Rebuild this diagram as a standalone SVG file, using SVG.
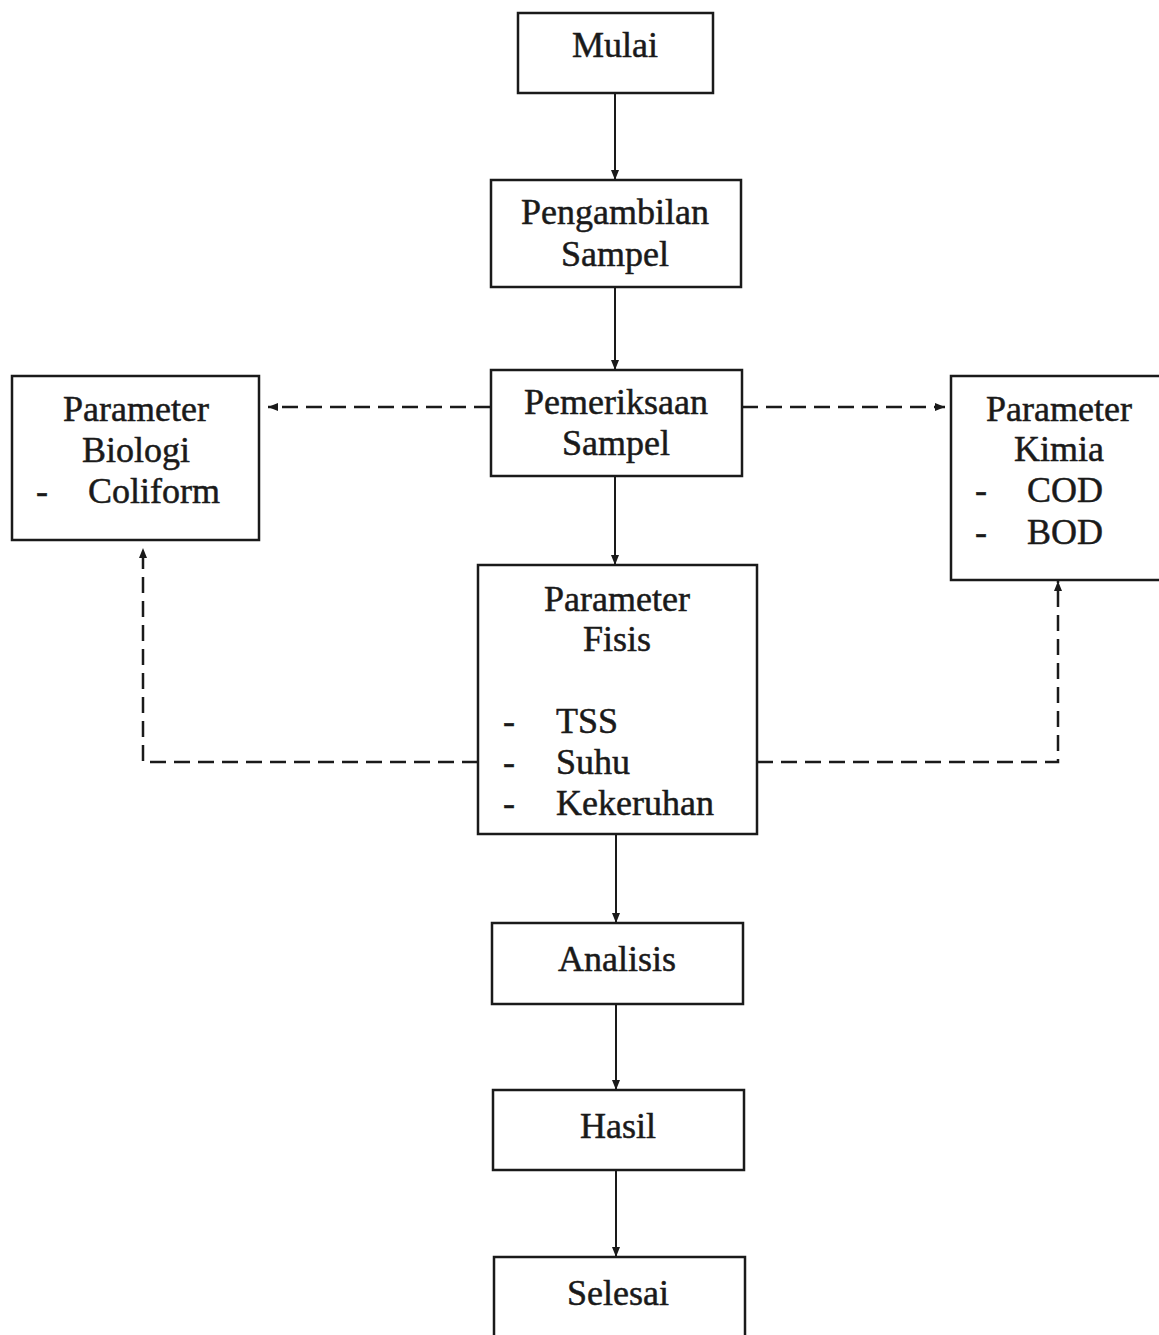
<svg xmlns="http://www.w3.org/2000/svg" width="1159" height="1335" viewBox="0 0 1159 1335">
<style>
.box{fill:#fff;stroke:#1a1a1a;stroke-width:2.5}
.t{font-family:"Liberation Serif","Times New Roman",serif;font-size:36px;fill:#1a1a1a;stroke:#1a1a1a;stroke-width:0.5}
.c{text-anchor:middle}
.solid{fill:none;stroke:#1a1a1a;stroke-width:2}
.dash{fill:none;stroke:#1a1a1a;stroke-width:2.5;stroke-dasharray:16 8}
</style>
<defs>
<marker id="ah" markerWidth="10" markerHeight="8" refX="10" refY="4" orient="auto" markerUnits="userSpaceOnUse">
<path d="M0,0 L10,4 L0,8 Z" fill="#1a1a1a"/>
</marker>
</defs>
<rect width="1159" height="1335" fill="#fff"/>
<g id="connectors">
<line class="solid" x1="615" y1="93" x2="615" y2="180" marker-end="url(#ah)"/>
<line class="solid" x1="615" y1="287" x2="615" y2="370" marker-end="url(#ah)"/>
<line class="solid" x1="615" y1="476" x2="615" y2="565" marker-end="url(#ah)"/>
<line class="solid" x1="616" y1="834" x2="616" y2="923" marker-end="url(#ah)"/>
<line class="solid" x1="616" y1="1004" x2="616" y2="1090" marker-end="url(#ah)"/>
<line class="solid" x1="616" y1="1170" x2="616" y2="1257" marker-end="url(#ah)"/>
<path class="dash" d="M490,407 L268,407" marker-end="url(#ah)"/>
<path class="dash" d="M742,407 L945,407" marker-end="url(#ah)"/>
<path class="dash" d="M478,762 L143,762 L143,548" marker-end="url(#ah)"/>
<path class="dash" d="M757,762 L1058,762 L1058,581" marker-end="url(#ah)"/>
</g>
<g id="mulai"><rect class="box" x="518" y="13" width="195" height="80"/><text class="t c" x="615" y="57">Mulai</text></g>
<g id="pengambilan"><rect class="box" x="491" y="180" width="250" height="107"/><text class="t c" x="615" y="224">Pengambilan</text><text class="t c" x="615" y="266">Sampel</text></g>
<g id="pemeriksaan"><rect class="box" x="491" y="370" width="251" height="106"/><text class="t c" x="616" y="414">Pemeriksaan</text><text class="t c" x="616" y="455">Sampel</text></g>
<g id="biologi"><rect class="box" x="12" y="376" width="247" height="164"/><text class="t c" x="136" y="421">Parameter</text><text class="t c" x="136" y="462">Biologi</text><text class="t" x="36" y="503">-</text><text class="t" x="88" y="503">Coliform</text></g>
<g id="kimia"><rect class="box" x="951" y="376" width="212" height="204"/><text class="t c" x="1059" y="421">Parameter</text><text class="t c" x="1059" y="461">Kimia</text><text class="t" x="975" y="502">-</text><text class="t" x="1027" y="502">COD</text><text class="t" x="975" y="544">-</text><text class="t" x="1027" y="544">BOD</text></g>
<g id="fisis"><rect class="box" x="478" y="565" width="279" height="269"/><text class="t c" x="617" y="611">Parameter</text><text class="t c" x="617" y="651">Fisis</text><text class="t" x="503" y="733">-</text><text class="t" x="556" y="733">TSS</text><text class="t" x="503" y="774">-</text><text class="t" x="556" y="774">Suhu</text><text class="t" x="503" y="815">-</text><text class="t" x="556" y="815">Kekeruhan</text></g>
<g id="analisis"><rect class="box" x="492" y="923" width="251" height="81"/><text class="t c" x="617" y="971">Analisis</text></g>
<g id="hasil"><rect class="box" x="493" y="1090" width="251" height="80"/><text class="t c" x="618" y="1138">Hasil</text></g>
<g id="selesai"><rect class="box" x="494" y="1257" width="251" height="80"/><text class="t c" x="618" y="1305">Selesai</text></g>
</svg>
